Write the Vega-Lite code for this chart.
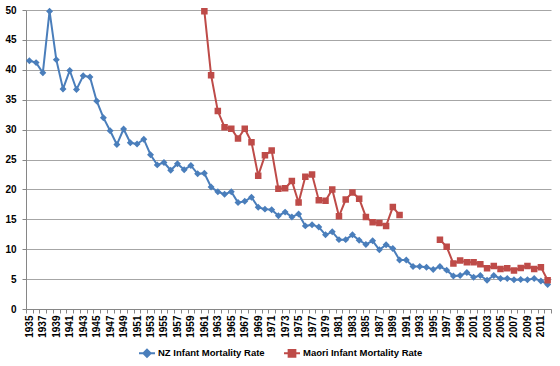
{
  "$schema": "https://vega.github.io/schema/vega-lite/v6.json",
  "autosize": {"type": "none"},
  "width": 525,
  "height": 299,
  "padding": {"left": 26, "top": 10, "right": 9, "bottom": 57},
  "background": "white",
  "config": {
    "view": {"stroke": null},
    "font": "Liberation Sans",
    "axis": {"labelFont": "Liberation Sans", "labelFontSize": 10, "labelFontWeight": "bold", "labelColor": "#000000"}
  },
  "data": {
    "values": [
      {"year": 1935, "series": "NZ Infant Mortality Rate", "rate": 41.5},
      {"year": 1936, "series": "NZ Infant Mortality Rate", "rate": 41.2},
      {"year": 1937, "series": "NZ Infant Mortality Rate", "rate": 39.5},
      {"year": 1938, "series": "NZ Infant Mortality Rate", "rate": 49.8},
      {"year": 1939, "series": "NZ Infant Mortality Rate", "rate": 41.7},
      {"year": 1940, "series": "NZ Infant Mortality Rate", "rate": 36.8},
      {"year": 1941, "series": "NZ Infant Mortality Rate", "rate": 39.9},
      {"year": 1942, "series": "NZ Infant Mortality Rate", "rate": 36.7},
      {"year": 1943, "series": "NZ Infant Mortality Rate", "rate": 39.0},
      {"year": 1944, "series": "NZ Infant Mortality Rate", "rate": 38.8},
      {"year": 1945, "series": "NZ Infant Mortality Rate", "rate": 34.8},
      {"year": 1946, "series": "NZ Infant Mortality Rate", "rate": 32.0},
      {"year": 1947, "series": "NZ Infant Mortality Rate", "rate": 29.8},
      {"year": 1948, "series": "NZ Infant Mortality Rate", "rate": 27.5},
      {"year": 1949, "series": "NZ Infant Mortality Rate", "rate": 30.1},
      {"year": 1950, "series": "NZ Infant Mortality Rate", "rate": 27.8},
      {"year": 1951, "series": "NZ Infant Mortality Rate", "rate": 27.6},
      {"year": 1952, "series": "NZ Infant Mortality Rate", "rate": 28.4},
      {"year": 1953, "series": "NZ Infant Mortality Rate", "rate": 25.8},
      {"year": 1954, "series": "NZ Infant Mortality Rate", "rate": 24.1},
      {"year": 1955, "series": "NZ Infant Mortality Rate", "rate": 24.5},
      {"year": 1956, "series": "NZ Infant Mortality Rate", "rate": 23.2},
      {"year": 1957, "series": "NZ Infant Mortality Rate", "rate": 24.3},
      {"year": 1958, "series": "NZ Infant Mortality Rate", "rate": 23.3},
      {"year": 1959, "series": "NZ Infant Mortality Rate", "rate": 24.0},
      {"year": 1960, "series": "NZ Infant Mortality Rate", "rate": 22.6},
      {"year": 1961, "series": "NZ Infant Mortality Rate", "rate": 22.7},
      {"year": 1962, "series": "NZ Infant Mortality Rate", "rate": 20.4},
      {"year": 1963, "series": "NZ Infant Mortality Rate", "rate": 19.6},
      {"year": 1964, "series": "NZ Infant Mortality Rate", "rate": 19.2},
      {"year": 1965, "series": "NZ Infant Mortality Rate", "rate": 19.6},
      {"year": 1966, "series": "NZ Infant Mortality Rate", "rate": 17.8},
      {"year": 1967, "series": "NZ Infant Mortality Rate", "rate": 18.0},
      {"year": 1968, "series": "NZ Infant Mortality Rate", "rate": 18.7},
      {"year": 1969, "series": "NZ Infant Mortality Rate", "rate": 17.0},
      {"year": 1970, "series": "NZ Infant Mortality Rate", "rate": 16.7},
      {"year": 1971, "series": "NZ Infant Mortality Rate", "rate": 16.6},
      {"year": 1972, "series": "NZ Infant Mortality Rate", "rate": 15.6},
      {"year": 1973, "series": "NZ Infant Mortality Rate", "rate": 16.2},
      {"year": 1974, "series": "NZ Infant Mortality Rate", "rate": 15.4},
      {"year": 1975, "series": "NZ Infant Mortality Rate", "rate": 15.9},
      {"year": 1976, "series": "NZ Infant Mortality Rate", "rate": 13.9},
      {"year": 1977, "series": "NZ Infant Mortality Rate", "rate": 14.1},
      {"year": 1978, "series": "NZ Infant Mortality Rate", "rate": 13.7},
      {"year": 1979, "series": "NZ Infant Mortality Rate", "rate": 12.4},
      {"year": 1980, "series": "NZ Infant Mortality Rate", "rate": 12.9},
      {"year": 1981, "series": "NZ Infant Mortality Rate", "rate": 11.6},
      {"year": 1982, "series": "NZ Infant Mortality Rate", "rate": 11.6},
      {"year": 1983, "series": "NZ Infant Mortality Rate", "rate": 12.4},
      {"year": 1984, "series": "NZ Infant Mortality Rate", "rate": 11.5},
      {"year": 1985, "series": "NZ Infant Mortality Rate", "rate": 10.8},
      {"year": 1986, "series": "NZ Infant Mortality Rate", "rate": 11.4},
      {"year": 1987, "series": "NZ Infant Mortality Rate", "rate": 9.9},
      {"year": 1988, "series": "NZ Infant Mortality Rate", "rate": 10.75},
      {"year": 1989, "series": "NZ Infant Mortality Rate", "rate": 10.1},
      {"year": 1990, "series": "NZ Infant Mortality Rate", "rate": 8.2},
      {"year": 1991, "series": "NZ Infant Mortality Rate", "rate": 8.2},
      {"year": 1992, "series": "NZ Infant Mortality Rate", "rate": 7.1},
      {"year": 1993, "series": "NZ Infant Mortality Rate", "rate": 7.1},
      {"year": 1994, "series": "NZ Infant Mortality Rate", "rate": 7.0},
      {"year": 1995, "series": "NZ Infant Mortality Rate", "rate": 6.6},
      {"year": 1996, "series": "NZ Infant Mortality Rate", "rate": 7.1},
      {"year": 1997, "series": "NZ Infant Mortality Rate", "rate": 6.5},
      {"year": 1998, "series": "NZ Infant Mortality Rate", "rate": 5.5},
      {"year": 1999, "series": "NZ Infant Mortality Rate", "rate": 5.6},
      {"year": 2000, "series": "NZ Infant Mortality Rate", "rate": 6.1},
      {"year": 2001, "series": "NZ Infant Mortality Rate", "rate": 5.3},
      {"year": 2002, "series": "NZ Infant Mortality Rate", "rate": 5.6},
      {"year": 2003, "series": "NZ Infant Mortality Rate", "rate": 4.8},
      {"year": 2004, "series": "NZ Infant Mortality Rate", "rate": 5.6},
      {"year": 2005, "series": "NZ Infant Mortality Rate", "rate": 5.1},
      {"year": 2006, "series": "NZ Infant Mortality Rate", "rate": 5.1},
      {"year": 2007, "series": "NZ Infant Mortality Rate", "rate": 4.9},
      {"year": 2008, "series": "NZ Infant Mortality Rate", "rate": 4.95},
      {"year": 2009, "series": "NZ Infant Mortality Rate", "rate": 4.9},
      {"year": 2010, "series": "NZ Infant Mortality Rate", "rate": 5.1},
      {"year": 2011, "series": "NZ Infant Mortality Rate", "rate": 4.7},
      {"year": 2012, "series": "NZ Infant Mortality Rate", "rate": 4.1},
      {"year": 1961, "series": "Maori Infant Mortality Rate", "rate": 49.8},
      {"year": 1962, "series": "Maori Infant Mortality Rate", "rate": 39.1},
      {"year": 1963, "series": "Maori Infant Mortality Rate", "rate": 33.1},
      {"year": 1964, "series": "Maori Infant Mortality Rate", "rate": 30.4},
      {"year": 1965, "series": "Maori Infant Mortality Rate", "rate": 30.15},
      {"year": 1966, "series": "Maori Infant Mortality Rate", "rate": 28.5},
      {"year": 1967, "series": "Maori Infant Mortality Rate", "rate": 30.15},
      {"year": 1968, "series": "Maori Infant Mortality Rate", "rate": 27.9},
      {"year": 1969, "series": "Maori Infant Mortality Rate", "rate": 22.3},
      {"year": 1970, "series": "Maori Infant Mortality Rate", "rate": 25.7},
      {"year": 1971, "series": "Maori Infant Mortality Rate", "rate": 26.5},
      {"year": 1972, "series": "Maori Infant Mortality Rate", "rate": 20.1},
      {"year": 1973, "series": "Maori Infant Mortality Rate", "rate": 20.2},
      {"year": 1974, "series": "Maori Infant Mortality Rate", "rate": 21.4},
      {"year": 1975, "series": "Maori Infant Mortality Rate", "rate": 17.8},
      {"year": 1976, "series": "Maori Infant Mortality Rate", "rate": 22.1},
      {"year": 1977, "series": "Maori Infant Mortality Rate", "rate": 22.5},
      {"year": 1978, "series": "Maori Infant Mortality Rate", "rate": 18.2},
      {"year": 1979, "series": "Maori Infant Mortality Rate", "rate": 18.1},
      {"year": 1980, "series": "Maori Infant Mortality Rate", "rate": 20.0},
      {"year": 1981, "series": "Maori Infant Mortality Rate", "rate": 15.5},
      {"year": 1982, "series": "Maori Infant Mortality Rate", "rate": 18.3},
      {"year": 1983, "series": "Maori Infant Mortality Rate", "rate": 19.5},
      {"year": 1984, "series": "Maori Infant Mortality Rate", "rate": 18.45},
      {"year": 1985, "series": "Maori Infant Mortality Rate", "rate": 15.4},
      {"year": 1986, "series": "Maori Infant Mortality Rate", "rate": 14.5},
      {"year": 1987, "series": "Maori Infant Mortality Rate", "rate": 14.4},
      {"year": 1988, "series": "Maori Infant Mortality Rate", "rate": 13.9},
      {"year": 1989, "series": "Maori Infant Mortality Rate", "rate": 17.05},
      {"year": 1990, "series": "Maori Infant Mortality Rate", "rate": 15.7},
      {"year": 1991, "series": "Maori Infant Mortality Rate", "rate": null},
      {"year": 1992, "series": "Maori Infant Mortality Rate", "rate": null},
      {"year": 1993, "series": "Maori Infant Mortality Rate", "rate": null},
      {"year": 1994, "series": "Maori Infant Mortality Rate", "rate": null},
      {"year": 1995, "series": "Maori Infant Mortality Rate", "rate": null},
      {"year": 1996, "series": "Maori Infant Mortality Rate", "rate": 11.6},
      {"year": 1997, "series": "Maori Infant Mortality Rate", "rate": 10.4},
      {"year": 1998, "series": "Maori Infant Mortality Rate", "rate": 7.6},
      {"year": 1999, "series": "Maori Infant Mortality Rate", "rate": 8.1},
      {"year": 2000, "series": "Maori Infant Mortality Rate", "rate": 7.8},
      {"year": 2001, "series": "Maori Infant Mortality Rate", "rate": 7.8},
      {"year": 2002, "series": "Maori Infant Mortality Rate", "rate": 7.5},
      {"year": 2003, "series": "Maori Infant Mortality Rate", "rate": 6.8},
      {"year": 2004, "series": "Maori Infant Mortality Rate", "rate": 7.2},
      {"year": 2005, "series": "Maori Infant Mortality Rate", "rate": 6.7},
      {"year": 2006, "series": "Maori Infant Mortality Rate", "rate": 6.8},
      {"year": 2007, "series": "Maori Infant Mortality Rate", "rate": 6.45},
      {"year": 2008, "series": "Maori Infant Mortality Rate", "rate": 6.85},
      {"year": 2009, "series": "Maori Infant Mortality Rate", "rate": 7.2},
      {"year": 2010, "series": "Maori Infant Mortality Rate", "rate": 6.7},
      {"year": 2011, "series": "Maori Infant Mortality Rate", "rate": 7.0},
      {"year": 2012, "series": "Maori Infant Mortality Rate", "rate": 4.8}
    ]
  },
  "encoding": {
    "x": {
      "field": "year",
      "type": "ordinal",
      "bandPosition": 0.5,
      "scale": {"type": "band", "paddingInner": 0, "paddingOuter": 0},
      "axis": {
        "title": null,
        "labelAngle": 270,
        "labelExpr": "datum.value % 2 == 1 ? datum.label : ''",
        "labelOverlap": false,
        "labelBound": false,
        "labelPadding": 2,
        "tickBand": "extent",
        "ticks": true,
        "tickSize": 4,
        "tickColor": "#868686",
        "domainColor": "#868686",
        "grid": false
      }
    },
    "y": {
      "field": "rate",
      "type": "quantitative",
      "scale": {"domain": [0, 50], "nice": false},
      "axis": {
        "title": null,
        "values": [0, 5, 10, 15, 20, 25, 30, 35, 40, 45, 50],
        "grid": true,
        "gridColor": "#a6a6a6",
        "ticks": true,
        "tickSize": 4,
        "tickColor": "#868686",
        "domainColor": "#868686",
        "labelPadding": 6
      }
    },
    "color": {
      "field": "series",
      "type": "nominal",
      "sort": ["NZ Infant Mortality Rate", "Maori Infant Mortality Rate"],
      "scale": {"domain": ["NZ Infant Mortality Rate", "Maori Infant Mortality Rate"], "range": ["#4a7ebb", "#be4b48"]},
      "legend": {
        "title": null,
        "orient": "none",
        "legendX": 112,
        "legendY": 334,
        "direction": "horizontal",
        "padding": 0,
        "symbolSize": 256,
        "symbolStrokeWidth": 2,
        "labelFont": "Liberation Sans",
        "labelFontSize": 9.5,
        "labelFontWeight": "bold",
        "labelColor": "#000000",
        "labelOffset": 2,
        "columnPadding": 15,
        "encode": {"symbols": {"update": {"stroke": {"scale": "color", "field": "value"}, "strokeWidth": {"value": 2}, "opacity": {"value": 1}}}}
      }
    }
  },
  "layer": [
    {
      "mark": {"type": "line", "strokeWidth": 2, "invalid": "break-paths-show-domains"}
    },
    {
      "mark": {"type": "point", "filled": true, "opacity": 1, "size": 240},
      "encoding": {
        "shape": {
          "field": "series",
          "type": "nominal",
          "scale": {"domain": ["NZ Infant Mortality Rate", "Maori Infant Mortality Rate"], "range": ["M-1,0H1M0,-0.45L0.45,0L0,0.45L-0.45,0Z", "M-1,0H1M-0.42,-0.42H0.42V0.42H-0.42Z"]},
          "legend": {
            "title": null,
            "orient": "none",
            "legendX": 112,
            "legendY": 334,
            "direction": "horizontal"
          }
        }
      }
    }
  ]
}
